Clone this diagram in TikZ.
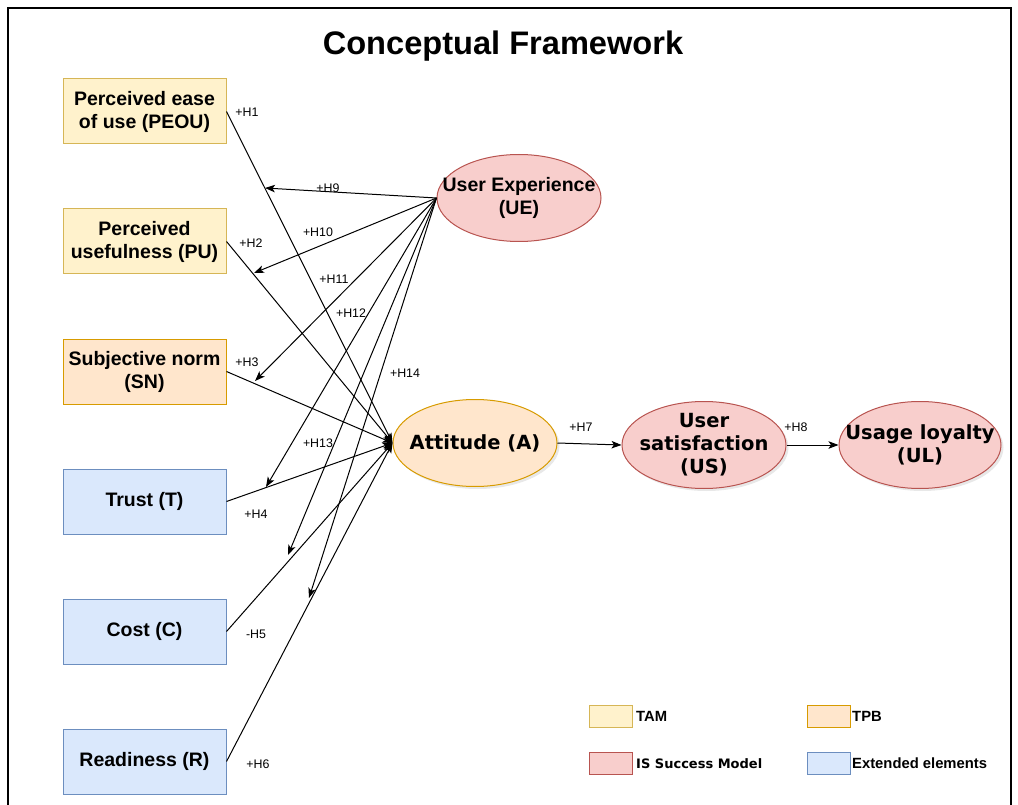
\documentclass[tikz,border=0pt]{standalone}
\usepackage{fontspec}
\setmainfont{Liberation Sans}
\newfontfamily\dejavu{DejaVu Sans}
\usetikzlibrary{shapes.geometric,arrows.meta,shadows}

\definecolor{tamfill}{HTML}{FFF2CC}
\definecolor{tamdraw}{HTML}{D6B656}
\definecolor{tpbfill}{HTML}{FFE6CC}
\definecolor{tpbdraw}{HTML}{D79B00}
\definecolor{isfill}{HTML}{F8CECC}
\definecolor{isdraw}{HTML}{B85450}
\definecolor{extfill}{HTML}{DAE8FC}
\definecolor{extdraw}{HTML}{6C8EBF}

\begin{document}
\begin{tikzpicture}[x=1pt,y=-1pt,
  construct/.style={draw, rectangle, minimum width=163pt, minimum height=65pt, inner sep=0pt,
    align=center, line width=1pt, font=\fontsize{19.5}{23}\selectfont\bfseries},
  tam/.style={construct, fill=tamfill, draw=tamdraw},
  tpb/.style={construct, fill=tpbfill, draw=tpbdraw},
  ext/.style={construct, fill=extfill, draw=extdraw},
  oval/.style={draw, ellipse, minimum width=164pt, minimum height=87pt, inner sep=0pt, line width=1pt},
  ovaltext/.style={inner sep=0pt, align=center, font=\fontsize{19.5}{23}\dejavu\bfseries},
  shade/.style={drop shadow={opacity=0.18, shadow xshift=2.5pt, shadow yshift=-2.5pt}},
  hyp/.style={-{Stealth[length=10pt,width=7.5pt,inset=2.5pt]}, line width=1pt},
  hlabel/.style={inner sep=0pt, font=\fontsize{12.4}{14}\selectfont},
  legbox/.style={draw, minimum width=43pt, minimum height=22pt, inner sep=0pt, line width=1pt},
  legtext/.style={anchor=west, inner sep=0pt, font=\fontsize{14.8}{16}\selectfont\bfseries}]
  \useasboundingbox (0,0) rectangle (1018,805);
  \draw[line width=1.5pt] (8,805) -- (8,8) -- (1011,8) -- (1011,805);

  \node[font=\fontsize{32.6}{38}\selectfont\bfseries] (title) at (503,46) {Conceptual Framework};

  \node[tam] (peou) at (144.5,111.5) {Perceived ease\\of use (PEOU)};
  \node[tam] (pu) at (144.5,241.5) {Perceived\\usefulness (PU)};
  \node[tpb] (sn) at (144.5,371.5) {Subjective norm\\(SN)};
  \node[ext] (trust) at (144.5,501.5) {Trust (T)};
  \node[ext] (cost) at (144.5,631.5) {Cost (C)};
  \node[ext] (ready) at (144.5,761.5) {Readiness (R)};

  \node[oval, fill=isfill, draw=isdraw,
    label={[ovaltext, font=\fontsize{19.5}{23}\selectfont\bfseries]center:{User Experience\\(UE)}}] (ue) at (519,198) {};
  \node[oval, shade, fill=tpbfill, draw=tpbdraw,
    label={[ovaltext]center:{Attitude (A)}}] (att) at (475,443) {};
  \node[oval, shade, fill=isfill, draw=isdraw,
    label={[ovaltext]center:{User\\satisfaction\\(US)}}] (us) at (704,445) {};
  \node[oval, shade, fill=isfill, draw=isdraw, minimum width=162pt,
    label={[ovaltext]center:{Usage loyalty\\(UL)}}] (ul) at (920,445) {};

  \coordinate (t9) at (265,188);
  \coordinate (t10) at (254,273);
  \coordinate (t11) at (255,381);
  \coordinate (t12) at (266,487);
  \coordinate (t13) at (288,555);
  \coordinate (t14) at (309,598);

  \draw[hyp] (peou.east) -- (att.west);
  \draw[hyp] (pu.east) -- (att.west);
  \draw[hyp] (sn.east) -- (att.west);
  \draw[hyp] (trust.east) -- (att.west);
  \draw[hyp] (cost.east) -- (att.west);
  \draw[hyp] (ready.east) -- (att.west);
  \foreach \k in {9,...,14}
    \draw[hyp] (ue.west) -- (t\k);
  \draw[hyp] (att.east) -- (us.west);
  \draw[hyp] (us.east) -- (ul.west);

  \node[hlabel] (h1) at (247,112) {+H1};
  \node[hlabel] (h2) at (251,243) {+H2};
  \node[hlabel] (h3) at (247,362) {+H3};
  \node[hlabel] (h4) at (256,514) {+H4};
  \node[hlabel] (h5) at (256,634) {-H5};
  \node[hlabel] (h6) at (258,764) {+H6};
  \node[hlabel] (h7) at (581,427) {+H7};
  \node[hlabel] (h8) at (796,427) {+H8};
  \node[hlabel] (h9) at (328,188) {+H9};
  \node[hlabel] (h10) at (318,232) {+H10};
  \node[hlabel] (h11) at (334,279) {+H11};
  \node[hlabel] (h12) at (351,313) {+H12};
  \node[hlabel] (h13) at (318,443) {+H13};
  \node[hlabel] (h14) at (405,373) {+H14};

  \node[legbox, fill=tamfill, draw=tamdraw] (ktam) at (611,716) {};
  \node[legtext] (ttam) at (636,716) {TAM};
  \node[legbox, fill=tpbfill, draw=tpbdraw] (ktpb) at (828.5,716) {};
  \node[legtext] (ttpb) at (852,716) {TPB};
  \node[legbox, fill=isfill, draw=isdraw] (kis) at (611,763.5) {};
  \node[legtext, font=\fontsize{13}{15}\dejavu\bfseries] (tis) at (636,763.5) {IS Success Model};
  \node[legbox, fill=extfill, draw=extdraw] (kext) at (828.5,763.5) {};
  \node[legtext] (text) at (852,763.5) {Extended elements};
\end{tikzpicture}
\end{document}
